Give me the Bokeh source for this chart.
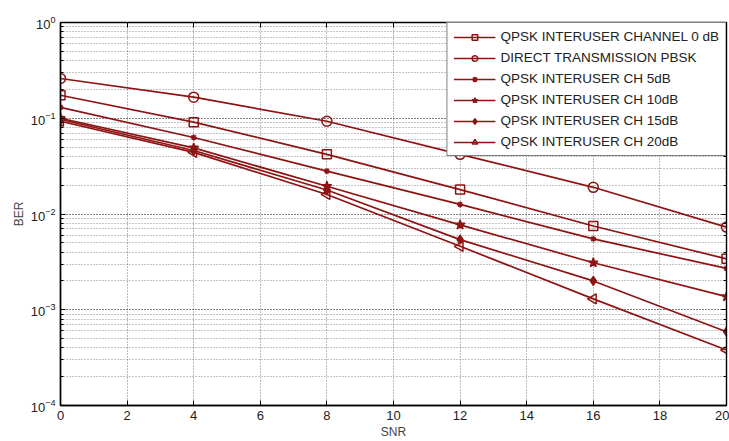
import numpy as np
from bokeh.plotting import figure
from bokeh.models import (LinearAxis, LogAxis, Legend, LegendItem, FixedTicker, Range1d,
                          CustomJSTickFormatter)
from bokeh.embed import file_html
from bokeh.resources import INLINE

snr = [0, 4, 8, 12, 16, 20]
ber_qpsk_0db = [0.174, 0.091, 0.042, 0.018, 0.0075, 0.0034]
ber_direct_pbsk = [0.26, 0.166, 0.093, 0.042, 0.019, 0.0073]
ber_qpsk_5db = [0.13, 0.063, 0.028, 0.0126, 0.0055, 0.0027]
ber_qpsk_10db = [0.10, 0.049, 0.0195, 0.0077, 0.0031, 0.00137]
ber_qpsk_15db = [0.097, 0.046, 0.0178, 0.0054, 0.0020, 0.00059]
ber_qpsk_20db = [0.093, 0.044, 0.016, 0.0046, 0.0013, 0.00038]

labels = ["QPSK INTERUSER CHANNEL 0 dB", "DIRECT TRANSMISSION PBSK",
          "QPSK INTERUSER CH 5dB", "QPSK INTERUSER CH 10dB",
          "QPSK INTERUSER CH 15dB", "QPSK INTERUSER CH 20dB"]
x_ticks = [0, 2, 4, 6, 8, 10, 12, 14, 16, 18, 20]

FONT = "Liberation Sans"
LINE = "#8e1414"
GRID = "#555555"

p = figure(width=729, height=441, y_axis_type="log",
           x_range=Range1d(0, 20), y_range=Range1d(1e-4, 1),
           output_backend="svg", toolbar_location=None,
           min_border_left=60, min_border_right=3, min_border_top=22, min_border_bottom=35)
p.outline_line_color = "black"
p.outline_line_width = 1.4
p.background_fill_color = "white"
p.border_fill_color = "white"

for ax in (p.xaxis[0], p.yaxis[0]):
    ax.major_tick_in = 5
    ax.major_tick_out = 0
    ax.minor_tick_in = 3
    ax.minor_tick_out = 0
    ax.axis_line_color = "black"
    ax.axis_line_width = 1.4
    ax.major_label_text_font = FONT
    ax.major_label_text_font_size = "13px"
    ax.major_label_text_color = "#222222"
    ax.axis_label_text_font = FONT
    ax.axis_label_text_font_size = "12px"
    ax.axis_label_text_font_style = "normal"
    ax.axis_label_standoff = 2

p.xaxis.ticker = FixedTicker(ticks=x_ticks)
p.xaxis.minor_tick_line_color = None
p.xaxis.axis_label = "SNR"
p.yaxis.axis_label = "BER"

blank = "return ''"
top = LinearAxis(ticker=FixedTicker(ticks=x_ticks), formatter=CustomJSTickFormatter(code=blank),
                 major_tick_in=5, major_tick_out=0, minor_tick_line_color=None,
                 major_label_standoff=0)
right = LogAxis(formatter=CustomJSTickFormatter(code=blank), major_tick_in=5, major_tick_out=0,
                minor_tick_in=3, minor_tick_out=0, major_label_standoff=0)
p.add_layout(top, "above")
p.add_layout(right, "right")

p.xgrid.grid_line_color = GRID
p.xgrid.grid_line_dash = "1 2"
p.xgrid.grid_line_alpha = 0.8
p.ygrid.grid_line_color = GRID
p.ygrid.grid_line_dash = "1 2"
p.ygrid.grid_line_alpha = 0.8
p.ygrid.minor_grid_line_color = GRID
p.ygrid.minor_grid_line_dash = "1 2"
p.ygrid.minor_grid_line_alpha = 0.7

series = [ber_qpsk_0db, ber_direct_pbsk, ber_qpsk_5db, ber_qpsk_10db, ber_qpsk_15db, ber_qpsk_20db]
markers = ["square", "circle", "asterisk", "star", "diamond", "triangle"]
sizes = [9, 10, 6, 10, 9, 10]
fills = [None, None, None, LINE, LINE, None]
angles = [0, 0, 0, 0, 0, np.pi / 2]

items = []
for ys, m, s, f, a, lab in zip(series, markers, sizes, fills, angles, labels):
    r1 = p.line(snr, ys, line_color=LINE, line_width=1.7)
    r2 = p.scatter(snr, ys, marker=m, size=s, line_color=LINE, line_width=1.5,
                   fill_color=f, angle=a)
    items.append(LegendItem(label=lab, renderers=[r1, r2]))

legend = Legend(items=items, location="top_right",
                label_text_font=FONT, label_text_font_size="13.5px",
                label_text_color="#222222",
                glyph_width=42, glyph_height=14, label_height=14,
                spacing=6, padding=6, margin=0, label_standoff=5,
                border_line_color="black", border_line_width=1.4,
                background_fill_alpha=1.0)
p.add_layout(legend)

open("out.html", "w").write(file_html(p, INLINE))
